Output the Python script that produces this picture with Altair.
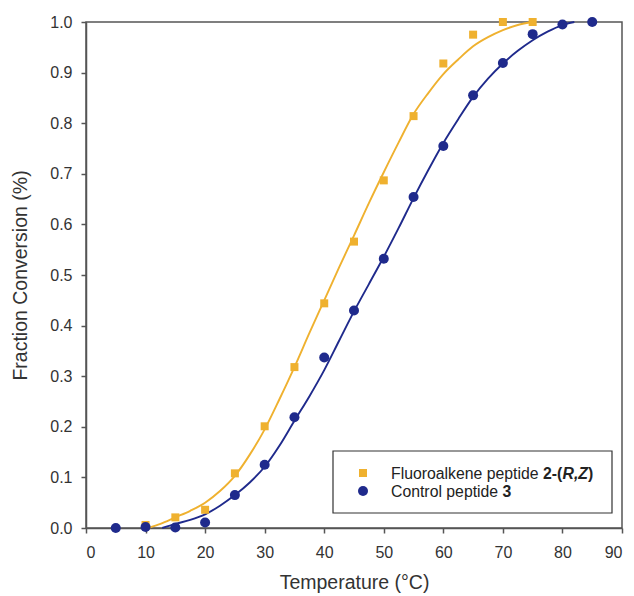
import altair as alt
import pandas as pd

# ---- data ----
temps_fluoro = [10, 15, 20, 25, 30, 35, 40, 45, 50, 55, 60, 65, 70, 75]
frac_fluoro = [0.006, 0.021, 0.036, 0.108, 0.201, 0.318, 0.444, 0.566, 0.687, 0.814, 0.918, 0.975, 1.0, 1.0]

temps_control = [5, 10, 15, 20, 25, 30, 35, 40, 45, 50, 55, 60, 65, 70, 75, 80, 85]
frac_control = [0.0, 0.002, 0.001, 0.011, 0.065, 0.125, 0.219, 0.337, 0.430, 0.532, 0.654, 0.755, 0.855, 0.919, 0.976, 0.995, 1.0]

# fitted curves
fit_fluoro_x = [10.5, 12.5, 15, 17.5, 20, 22.5, 25, 27.5, 30, 32.5, 35, 37.5, 40, 42.5, 45, 47.5,
                50, 52.5, 55, 57.5, 60, 62.5, 65, 67.5, 70, 72.5, 75]
fit_fluoro_y = [0.0, 0.008, 0.021, 0.034, 0.050, 0.073, 0.103, 0.145, 0.195, 0.255, 0.318, 0.385,
                0.450, 0.515, 0.578, 0.642, 0.703, 0.762, 0.818, 0.860, 0.897, 0.926, 0.952, 0.970,
                0.984, 0.994, 1.0]

fit_control_x = [12.8, 15, 17.5, 20, 22.5, 25, 27.5, 30, 32.5, 35, 37.5, 40, 42.5, 45, 47.5, 50,
                 52.5, 55, 57.5, 60, 62.5, 65, 67.5, 70, 72.5, 75, 77.5, 80, 82]
fit_control_y = [0.0, 0.008, 0.016, 0.027, 0.044, 0.065, 0.090, 0.121, 0.163, 0.212, 0.260, 0.312,
                 0.370, 0.428, 0.482, 0.536, 0.593, 0.652, 0.708, 0.761, 0.808, 0.852, 0.888, 0.918,
                 0.943, 0.964, 0.981, 0.994, 1.0]

x_ticks = [0, 10, 20, 30, 40, 50, 60, 70, 80, 90]
y_ticks = [0.0, 0.1, 0.2, 0.3, 0.4, 0.5, 0.6, 0.7, 0.8, 0.9, 1.0]

ORANGE = "#EFB12F"
BLUE = "#1F2A8C"
FONT = "Liberation Sans"

pts_f = pd.DataFrame({"temp": temps_fluoro, "frac": frac_fluoro})
pts_c = pd.DataFrame({"temp": temps_control, "frac": frac_control})
fit_f = pd.DataFrame({"temp": fit_fluoro_x, "frac": fit_fluoro_y})
fit_c = pd.DataFrame({"temp": fit_control_x, "frac": fit_control_y})

X = alt.X("temp:Q", scale=alt.Scale(domain=[0, 90], nice=False, zero=False),
          axis=alt.Axis(values=x_ticks, title="Temperature (°C)", labelPadding=11,
                        titleY=54, titleBaseline="middle"))
Y = alt.Y("frac:Q", scale=alt.Scale(domain=[0, 1], nice=False),
          axis=alt.Axis(values=y_ticks, format=".1f", title="Fraction Conversion (%)",
                        labelPadding=9, titleX=-66, titleY=253, titleBaseline="middle"))

line_f = alt.Chart(fit_f).mark_line(color=ORANGE, strokeWidth=1.9, interpolate="monotone").encode(x=X, y=Y)
line_c = alt.Chart(fit_c).mark_line(color=BLUE, strokeWidth=1.9, interpolate="monotone").encode(x=X, y=Y)
dots_f = alt.Chart(pts_f).mark_point(shape="square", filled=True, size=64, opacity=1,
                                     color=ORANGE).encode(x=X, y=Y)
dots_c = alt.Chart(pts_c).mark_point(shape="circle", filled=True, size=100, opacity=1,
                                     color=BLUE).encode(x=X, y=Y)

one = alt.Data(values=[{}])
LFS = 15.8
box = alt.Chart(one).mark_rect(fill="white", stroke="#333333", strokeWidth=1.2).encode(
    x=alt.value(247), x2=alt.value(526), y=alt.value(429), y2=alt.value(491))
sym_f = alt.Chart(one).mark_point(shape="square", filled=True, size=64, opacity=1, color=ORANGE).encode(
    x=alt.value(277), y=alt.value(451))
sym_c = alt.Chart(one).mark_point(shape="circle", filled=True, size=100, opacity=1, color=BLUE).encode(
    x=alt.value(277), y=alt.value(469))


def seg(txt, x, y, weight="normal", style="normal"):
    return alt.Chart(one).mark_text(text=txt, align="left", baseline="middle", font=FONT,
                                    fontSize=LFS, fontWeight=weight, fontStyle=style,
                                    color="#222222").encode(x=alt.value(x), y=alt.value(y))


legend_layers = [
    box, sym_f, sym_c,
    seg("Fluoroalkene peptide", 305, 452),
    seg("2-(", 457, 452, "bold"),
    seg("R,Z", 476.5, 452, "bold", "italic"),
    seg(")", 502, 452, "bold"),
    seg("Control peptide", 305, 470),
    seg("3", 416.5, 470, "bold"),
]

chart = alt.layer(line_f, line_c, dots_f, dots_c, *legend_layers).properties(
    width=536, height=506,
    autosize=alt.AutoSizeParams(type="none"),
    padding={"left": 78, "top": 14, "right": 4, "bottom": 66},
).configure_view(
    stroke="#555555", strokeWidth=1.5
).configure_axis(
    grid=False, domainColor="#555555", domainWidth=1.5, tickColor="#555555", tickWidth=1.5,
    tickSize=5, labelFont=FONT, labelFontSize=16, labelColor="#333333",
    titleFont=FONT, titleFontSize=19.5, titleFontWeight="normal", titleColor="#333333"
)

chart.save("out.html", embed_options={"renderer": "svg", "actions": False})
